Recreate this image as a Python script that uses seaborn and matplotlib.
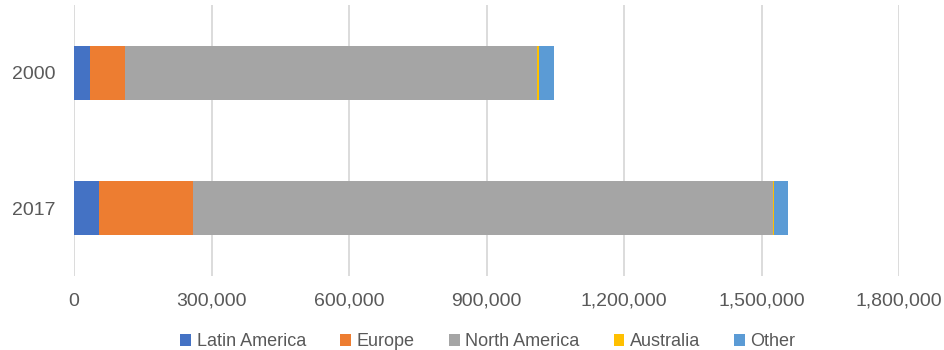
import matplotlib
matplotlib.use("Agg")
import matplotlib.pyplot as plt
import seaborn as sns
import pandas as pd
import numpy as np
from matplotlib.patches import Patch
from matplotlib.ticker import FuncFormatter, MultipleLocator

years = ["2000", "2017"]
series = ["Latin America", "Europe", "North America", "Australia", "Other"]
latin_america = [34000, 54000]
europe = [78000, 206000]
north_america = [899000, 1266000]
australia = [2500, 2000]
other = [34000, 29000]
colors = ["#4472C4", "#ED7D31", "#A5A5A5", "#FFC000", "#5B9BD5"]

sns.set_theme(style="white")
plt.rcParams["font.family"] = ["Liberation Sans", "DejaVu Sans"]

values = [latin_america, europe, north_america, australia, other]
df = pd.DataFrame({s: v for s, v in zip(series, values)}, index=years)
cum = df.cumsum(axis=1)

fig = plt.figure(figsize=(9.44, 3.5), dpi=100)
ax = fig.add_axes([74 / 944, 1 - 276 / 350, 825 / 944, 271 / 350])

for s, c in reversed(list(zip(series, colors))):
    d = pd.DataFrame({"year": years, "value": cum[s].values})
    sns.barplot(data=d, x="value", y="year", orient="h", color=c,
                width=0.4, saturation=1, ax=ax, linewidth=0, order=years)

ax.set_xlim(0, 1800000)
ax.xaxis.set_major_locator(MultipleLocator(300000))
ax.xaxis.set_major_formatter(FuncFormatter(lambda v, p: f"{int(v):,}"))
ax.grid(axis="x", color="#D9D9D9", linewidth=1.3)
ax.set_axisbelow(True)
for sp in ax.spines.values():
    sp.set_visible(False)
ax.set_xlabel("")
ax.set_ylabel("")
ax.tick_params(axis="both", length=0, labelsize=14, labelcolor="#595959")
ax.tick_params(axis="x", pad=12)
ax.tick_params(axis="y", pad=13)

handles = [Patch(facecolor=c, edgecolor="none", label=s) for s, c in zip(series, colors)]
fig.legend(handles=handles, loc="center", bbox_to_anchor=(488 / 944, 8 / 350),
           ncol=5, frameon=False, fontsize=13, labelcolor="#595959",
           handlelength=0.6, handleheight=0.6, handletextpad=0.3,
           columnspacing=1.9, borderpad=0)

fig.savefig("out.png", dpi=100)
